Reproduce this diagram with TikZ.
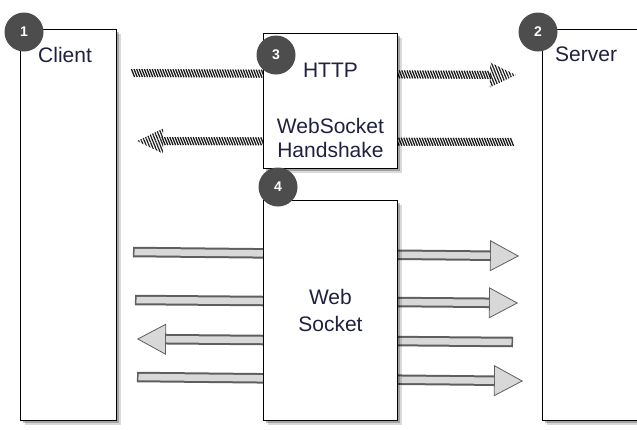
\documentclass[tikz,border=0pt]{standalone}
\usepackage{fontspec}
\setmainfont{Liberation Sans}
\usetikzlibrary{positioning, shadows, arrows.meta, decorations.markings, patterns.meta, backgrounds}

\begin{document}
\begin{tikzpicture}[x=1pt, y=-1pt,
    box/.style={draw=black, line width=0.9pt, fill=white, inner sep=0pt,
        preaction={fill=black, opacity=0.25, transform canvas={shift={(3pt,-3pt)}}},
        preaction={fill=black, opacity=0.15, transform canvas={shift={(5pt,-5pt)}}}},
    lbl/.style={font=\fontsize{21}{24}\selectfont, text=textColour, inner sep=0pt, align=center},
    badge/.style={circle, fill=badgeColour, minimum size=39pt, inner sep=0pt,
        text=white, font=\fontsize{14}{14}\selectfont\bfseries},
    pipe/.style={line width=10.5pt, draw=pipeEdge,
        -{Triangle[width=31pt, length=29pt, fill=pipeFill, line width=0.8pt]},
        postaction={draw=pipeFill, -, line width=6.5pt, shorten >=29pt, shorten <=1.5pt}},
    rope/.style={decorate, decoration={markings,
        mark=between positions 0 and -26pt step 2.6pt with
            {\draw[line width=1.3pt, ropeColour] (-1.6pt,4pt) -- (1.6pt,-4pt);},
        mark=at position -0.01pt with
            {\fill[pattern={Lines[angle=-68, distance=2.6pt, line width=1.2pt]}, pattern color=ropeColour]
                (0pt,0pt) -- (-26pt,12.5pt) -- (-26pt,-12.5pt) -- cycle;}}}
]
    \definecolor{textColour}{HTML}{202040}
    \definecolor{badgeColour}{HTML}{4D4D4D}
    \definecolor{pipeEdge}{HTML}{5E5E5E}
    \definecolor{pipeFill}{HTML}{D8D8D8}
    \definecolor{ropeColour}{HTML}{1A1A1A}

    \useasboundingbox (0,0) rectangle (637,429);

    % Draw boxes
    \node[box, minimum width=96pt, minimum height=391pt, anchor=north west] (client) at (20,29) {};
    \node[box, minimum width=110pt, minimum height=391pt, anchor=north west] (server) at (542,29) {};
    \node[box, minimum width=134pt, minimum height=135pt, anchor=north west] (http) at (263,33) {};
    \node[box, minimum width=134pt, minimum height=220pt, anchor=north west,
        lbl, font=\fontsize{21}{27}\selectfont] (ws) at (263,200) {Web\\Socket};

    % Labels
    \node[lbl, anchor=north west] (clientLbl) at ([xshift=18pt, yshift=-18pt]client.north west) {Client};
    \node[lbl, anchor=north west] (serverLbl) at ([xshift=13pt, yshift=-18pt]server.north west) {Server};
    \node[lbl, anchor=north] (httpLbl) at ([yshift=-30pt]http.north) {HTTP};
    \node[lbl, anchor=north] (shakeLbl) at ([yshift=-85pt]http.north) {WebSocket\\Handshake};

    % Badges
    \node[badge] (b1) at (24,32) {1};
    \node[badge] (b2) at (538,32) {2};
    \node[badge] (b3) at (276,55) {3};
    \node[badge] (b4) at (278,187) {4};

    % Arrow ends
    \coordinate (ropeAstart) at (133,73);
    \coordinate (ropeAend) at (516,75);
    \coordinate (ropeBstart) at (512,142);
    \coordinate (ropeBend) at (137,141);
    \coordinate (pipeAstart) at (133,252);
    \coordinate (pipeAend) at (519,256);
    \coordinate (pipeBstart) at (135,300);
    \coordinate (pipeBend) at (518,303);
    \coordinate (pipeCstart) at (513,342);
    \coordinate (pipeCend) at (137,339);
    \coordinate (pipeDstart) at (137,377);
    \coordinate (pipeDend) at (523,381);

    % Draw arrows behind the boxes
    \begin{scope}[on background layer]
        \foreach \r in {A,B}
            \path[rope] (rope\r start) -- (rope\r end);
        \foreach \p in {A,B,C,D}
            \draw[pipe] (pipe\p start) -- (pipe\p end);
    \end{scope}

\end{tikzpicture}
\end{document}
